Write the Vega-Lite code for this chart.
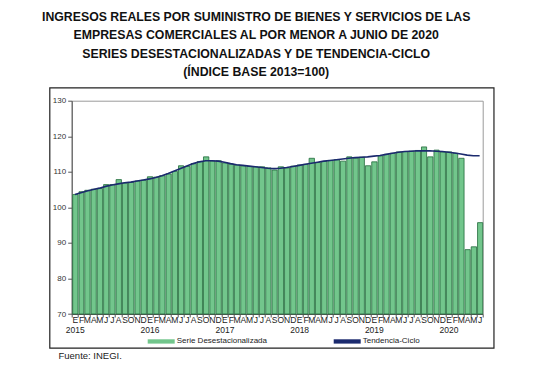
{
  "$schema": "https://vega.github.io/schema/vega-lite/v6.json",
  "width": 411,
  "height": 213.3,
  "autosize": {"type": "none"},
  "padding": {"left": 71.7, "top": 100.7, "right": 69.3, "bottom": 54},
  "background": "white",
  "config": {"font": "Liberation Sans", "view": {"stroke": "#9a9a9a", "strokeWidth": 1}},
  "title": {
    "text": ["INGRESOS REALES POR SUMINISTRO DE BIENES Y SERVICIOS DE LAS", "EMPRESAS COMERCIALES AL POR MENOR A JUNIO DE 2020", "SERIES DESESTACIONALIZADAS Y DE TENDENCIA-CICLO", "(ÍNDICE BASE 2013=100)"],
    "font": "Liberation Sans", "fontSize": 12.3, "fontWeight": "bold", "color": "#111",
    "lineHeight": 18.5, "anchor": "middle", "dx": -21, "offset": 9
  },
  "data": {"values": [
    {"d": "2015-01-15", "v": 103.6, "t": 103.6}, {"d": "2015-02-15", "v": 104.4, "t": 104.1}, {"d": "2015-03-15", "v": 104.8, "t": 104.6},
    {"d": "2015-04-15", "v": 105.1, "t": 105.0}, {"d": "2015-05-15", "v": 105.3, "t": 105.4}, {"d": "2015-06-15", "v": 106.4, "t": 105.9},
    {"d": "2015-07-15", "v": 106.4, "t": 106.3}, {"d": "2015-08-15", "v": 107.8, "t": 106.6}, {"d": "2015-09-15", "v": 106.8, "t": 106.9},
    {"d": "2015-10-15", "v": 107.0, "t": 107.1}, {"d": "2015-11-15", "v": 107.4, "t": 107.4}, {"d": "2015-12-15", "v": 107.6, "t": 107.7},
    {"d": "2016-01-15", "v": 108.6, "t": 108.0}, {"d": "2016-02-15", "v": 108.5, "t": 108.4}, {"d": "2016-03-15", "v": 108.9, "t": 108.9},
    {"d": "2016-04-15", "v": 109.4, "t": 109.5}, {"d": "2016-05-15", "v": 110.1, "t": 110.2}, {"d": "2016-06-15", "v": 111.7, "t": 110.9},
    {"d": "2016-07-15", "v": 111.5, "t": 111.6}, {"d": "2016-08-15", "v": 112.3, "t": 112.3}, {"d": "2016-09-15", "v": 112.9, "t": 112.8},
    {"d": "2016-10-15", "v": 114.2, "t": 113.1}, {"d": "2016-11-15", "v": 113.0, "t": 113.1}, {"d": "2016-12-15", "v": 113.1, "t": 113.0},
    {"d": "2017-01-15", "v": 112.5, "t": 112.7}, {"d": "2017-02-15", "v": 112.2, "t": 112.3}, {"d": "2017-03-15", "v": 111.9, "t": 112.0},
    {"d": "2017-04-15", "v": 111.7, "t": 111.8}, {"d": "2017-05-15", "v": 111.5, "t": 111.6}, {"d": "2017-06-15", "v": 111.4, "t": 111.4},
    {"d": "2017-07-15", "v": 111.4, "t": 111.2}, {"d": "2017-08-15", "v": 111.1, "t": 111.0}, {"d": "2017-09-15", "v": 110.5, "t": 110.9},
    {"d": "2017-10-15", "v": 111.4, "t": 111.0}, {"d": "2017-11-15", "v": 111.1, "t": 111.2}, {"d": "2017-12-15", "v": 111.6, "t": 111.5},
    {"d": "2018-01-15", "v": 111.9, "t": 111.8}, {"d": "2018-02-15", "v": 112.1, "t": 112.1}, {"d": "2018-03-15", "v": 113.8, "t": 112.4},
    {"d": "2018-04-15", "v": 112.6, "t": 112.7}, {"d": "2018-05-15", "v": 112.9, "t": 113.0}, {"d": "2018-06-15", "v": 113.2, "t": 113.2},
    {"d": "2018-07-15", "v": 113.4, "t": 113.4}, {"d": "2018-08-15", "v": 113.0, "t": 113.6}, {"d": "2018-09-15", "v": 114.2, "t": 113.8},
    {"d": "2018-10-15", "v": 113.9, "t": 114.0}, {"d": "2018-11-15", "v": 114.1, "t": 114.1}, {"d": "2018-12-15", "v": 111.7, "t": 114.2},
    {"d": "2019-01-15", "v": 112.8, "t": 114.4}, {"d": "2019-02-15", "v": 114.5, "t": 114.6}, {"d": "2019-03-15", "v": 114.9, "t": 114.9},
    {"d": "2019-04-15", "v": 115.2, "t": 115.2}, {"d": "2019-05-15", "v": 115.6, "t": 115.5}, {"d": "2019-06-15", "v": 115.7, "t": 115.7},
    {"d": "2019-07-15", "v": 115.8, "t": 115.8}, {"d": "2019-08-15", "v": 116.0, "t": 115.9}, {"d": "2019-09-15", "v": 117.0, "t": 115.9},
    {"d": "2019-10-15", "v": 114.2, "t": 115.9}, {"d": "2019-11-15", "v": 116.1, "t": 115.8}, {"d": "2019-12-15", "v": 115.6, "t": 115.7},
    {"d": "2020-01-15", "v": 115.6, "t": 115.5}, {"d": "2020-02-15", "v": 115.2, "t": 115.3}, {"d": "2020-03-15", "v": 113.8, "t": 115.0},
    {"d": "2020-04-15", "v": 88.1, "t": 114.7}, {"d": "2020-05-15", "v": 88.9, "t": 114.5}, {"d": "2020-06-15", "v": 95.7, "t": 114.5}
  ]},
  "layer": [
    {
      "mark": {"type": "bar", "stroke": "#226b3b", "strokeWidth": 0.8, "timeUnitBandSize": 0.78, "timeUnitBandPosition": 0.11},
      "encoding": {
        "x": {
          "field": "d", "timeUnit": "utcyearmonth", "type": "temporal",
          "scale": {"domain": [{"year": 2015, "month": 1, "date": 1, "utc": true}, {"year": 2020, "month": 7, "date": 1, "utc": true}], "nice": false},
          "axis": {
            "title": "Fuente: INEGI.", "titleAnchor": "start", "titleAlign": "left", "titleX": -13.7, "titleY": 44,
            "titleBaseline": "alphabetic", "titleFontSize": 9.5, "titleFontWeight": "normal", "titleColor": "#222",
            "tickCount": {"interval": "month", "step": 1},
            "labelExpr": "(utcyear(datum.value)==2020 && utcmonth(datum.value)==6) ? ['', ''] : [substring('EFMAMJJASOND', utcmonth(datum.value), utcmonth(datum.value)+1), utcmonth(datum.value)==0 ? '' + utcyear(datum.value) : '']",
            "labelOverlap": false, "labelFontSize": 8.5, "labelColor": "#222", "labelPadding": -2, "labelOffset": 3.1,
            "labelAlign": "center", "labelBound": false, "labelFlush": false, "labelLineHeight": 10.5,
            "domainColor": "#555", "tickColor": "#555", "tickSize": 3,
            "grid": false
          }
        },
        "y": {
          "field": "v", "type": "quantitative",
          "scale": {"domain": [70, 130], "nice": false, "zero": false},
          "axis": {"title": null, "values": [70, 80, 90, 100, 110, 120, 130], "labelOverlap": false, "labelFontSize": 8, "labelColor": "#333", "tickSize": 4, "tickColor": "#555", "domainColor": "#555", "grid": false, "labelPadding": 2}
        },
        "y2": {"datum": 70},
        "color": {
          "datum": "Serie Desestacionalizada", "type": "nominal",
          "scale": {"domain": ["Serie Desestacionalizada", "Tendencia-Ciclo"], "range": ["#72c68c", "#1b2a6e"]},
          "legend": {
            "orient": "none", "legendX": 76, "legendY": 227, "direction": "horizontal", "title": null,
            "labelFontSize": 8, "labelColor": "#222", "symbolType": "M-1,-0.16H1V0.16H-1Z", "symbolSize": 729,
            "symbolStrokeWidth": 0, "columnPadding": 66, "labelOffset": 2,
            "encode": {"symbols": {"update": {"shape": {"signal": "datum.value == 'Tendencia-Ciclo' ? 'M-1,-0.07H1V0.07H-1Z' : 'M-1,-0.16H1V0.16H-1Z'"}}}}
          }
        }
      }
    },
    {
      "mark": {"type": "line", "strokeWidth": 1.6},
      "encoding": {
        "x": {"field": "d", "timeUnit": "utcyearmonth", "type": "temporal", "bandPosition": 0.5},
        "y": {
          "field": "t", "type": "quantitative",
          "axis": {"title": null, "values": [70, 80, 90, 100, 110, 120, 130], "labelOverlap": false, "labelFontSize": 8, "labelColor": "#333", "tickSize": 4, "tickColor": "#555", "domainColor": "#555", "grid": false, "labelPadding": 2}
        },
        "color": {"datum": "Tendencia-Ciclo", "type": "nominal"}
      }
    },
    {
      "data": {"values": [{"marco": "grafico"}]},
      "mark": {"type": "rect", "fill": null, "stroke": "#222", "strokeWidth": 1.2},
      "encoding": {
        "x": {"datum": {"year": 2014, "month": 9, "date": 16, "utc": true}, "type": "temporal"},
        "x2": {"datum": {"year": 2020, "month": 8, "date": 25, "utc": true}},
        "y": {
          "datum": 133.6, "type": "quantitative", "scale": {"domain": [70, 130], "nice": false, "zero": false},
          "axis": {"title": null, "values": [70, 80, 90, 100, 110, 120, 130], "labelOverlap": false, "labelFontSize": 8, "labelColor": "#333", "tickSize": 4, "tickColor": "#555", "domainColor": "#555", "grid": false, "labelPadding": 2}
        },
        "y2": {"datum": 60.4}
      }
    }
  ]
}
